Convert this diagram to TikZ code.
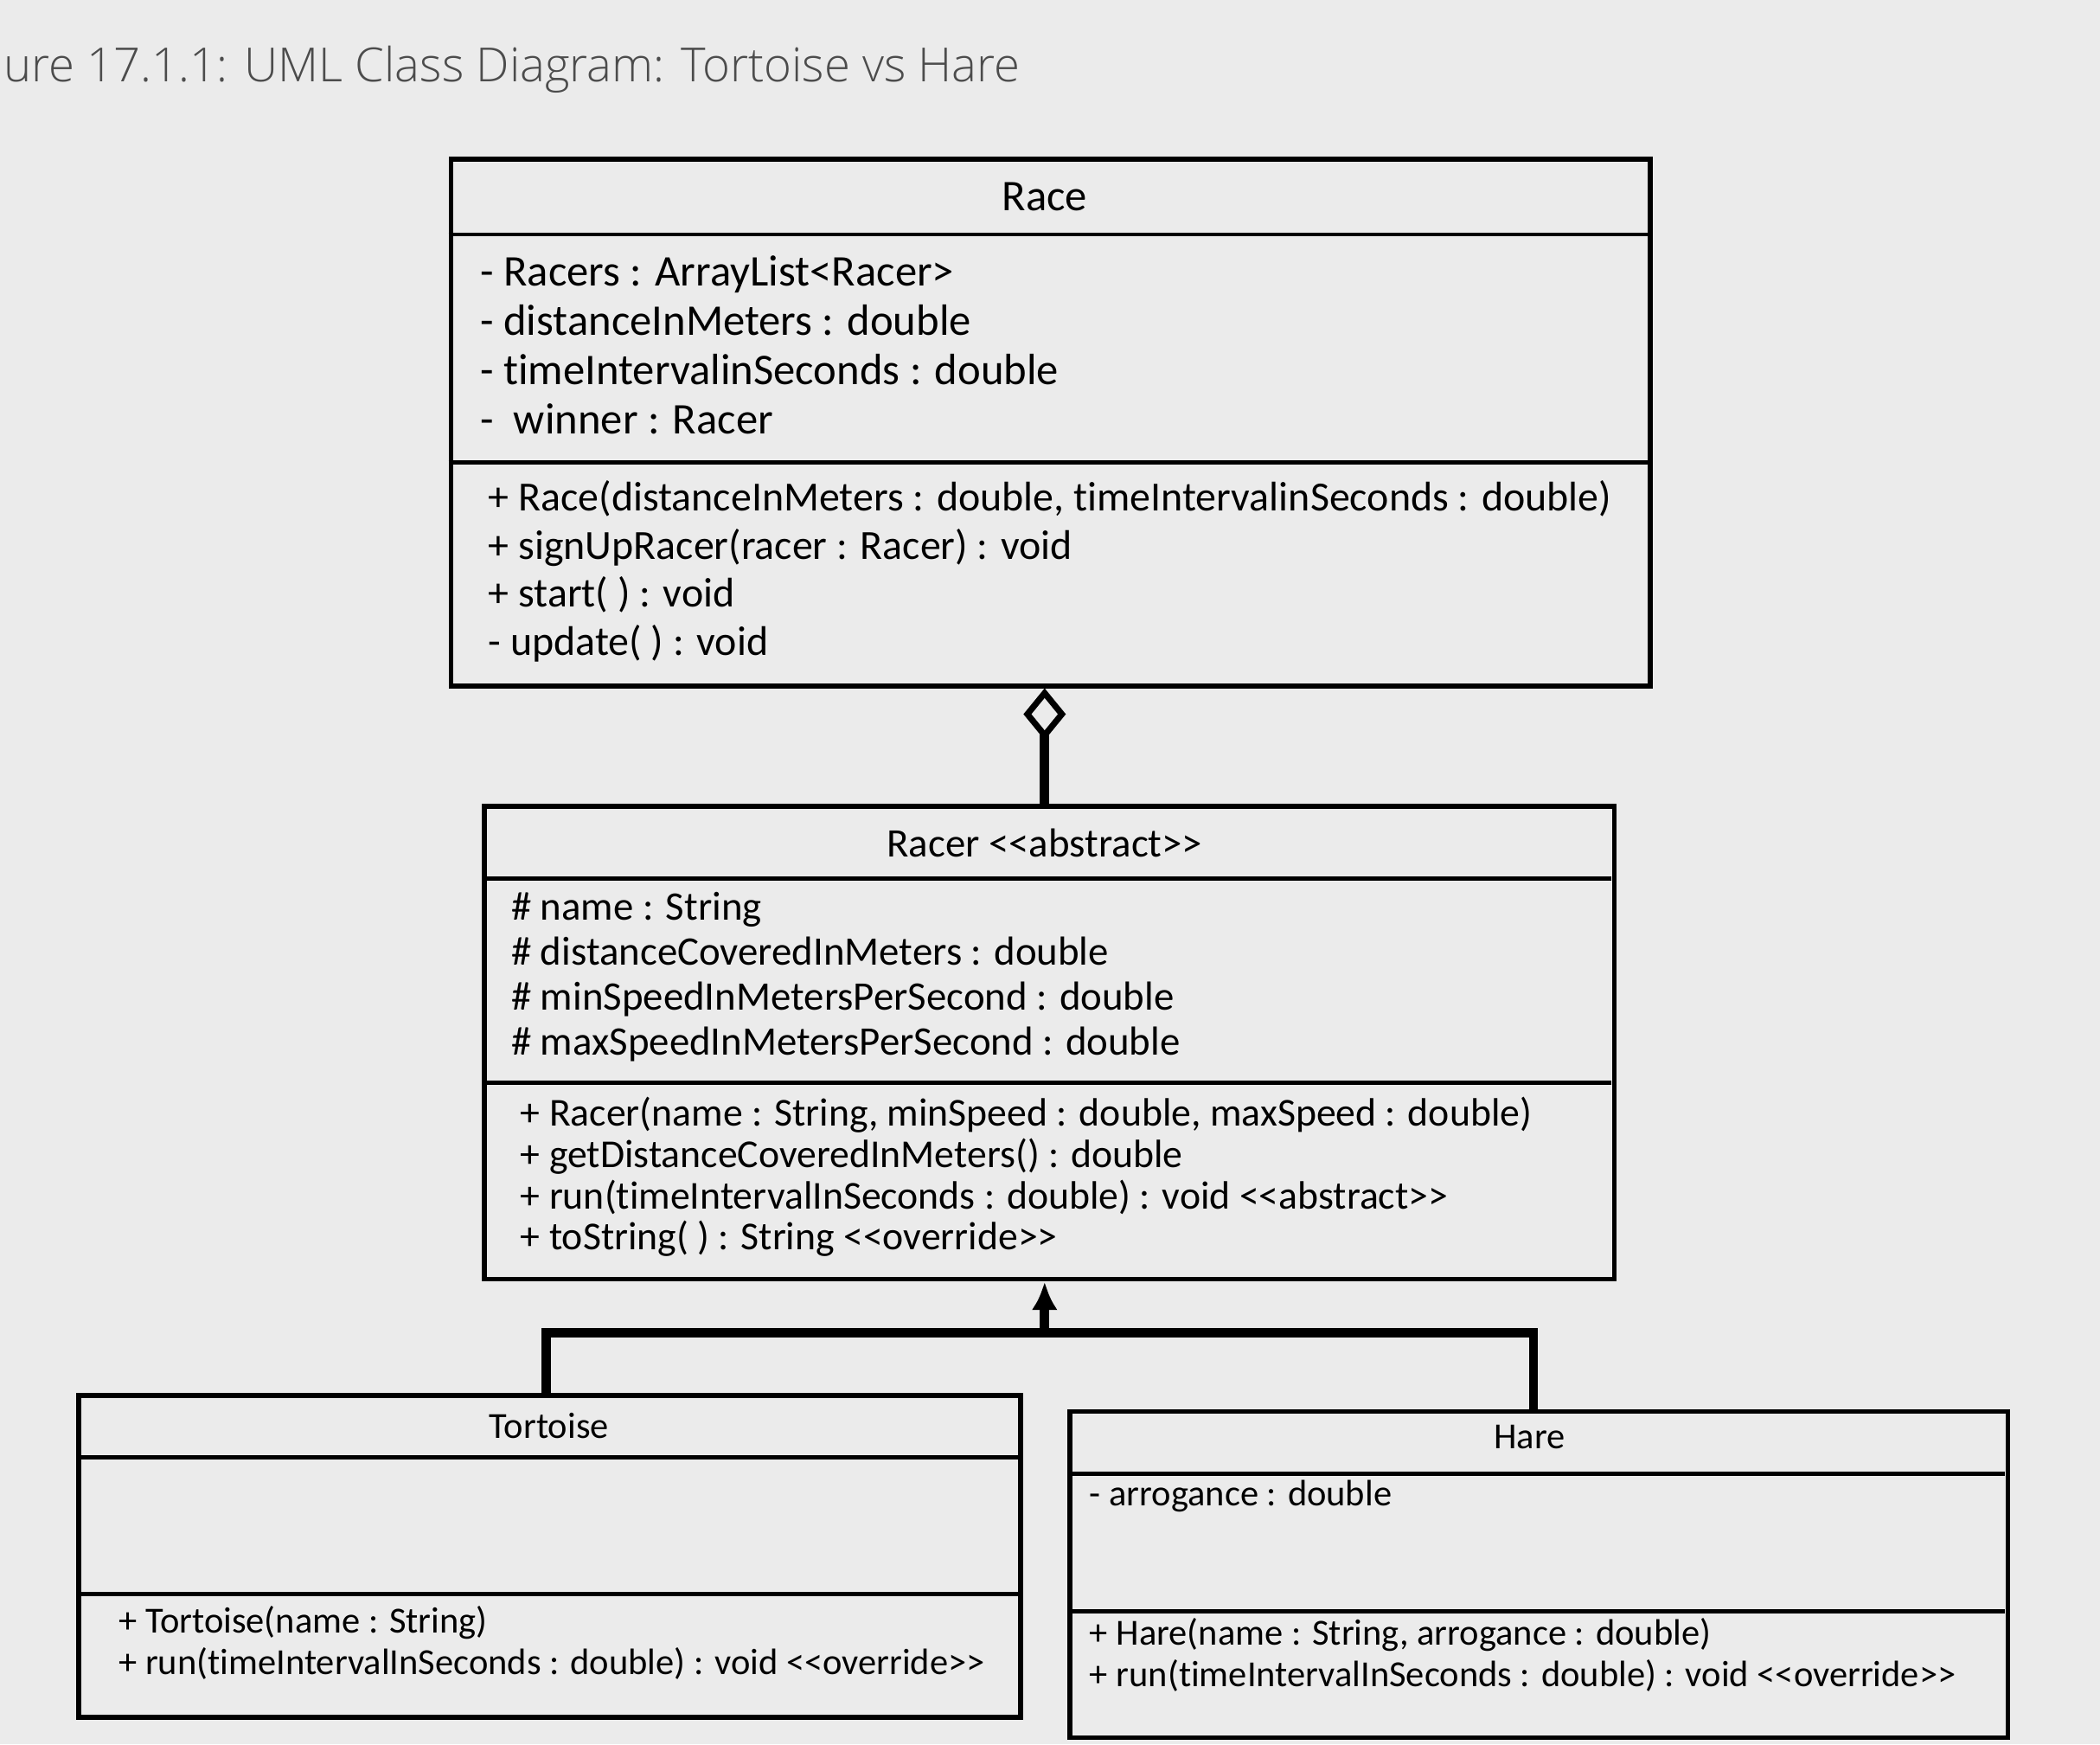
\documentclass[tikz,border=0pt]{standalone}
\usepackage{fontspec}
\setmainfont{Carlito}[Ligatures=NoCommon]
\newfontfamily\titlefont{Open Sans Light}
\usetikzlibrary{arrows.meta}
\begin{document}
\begin{tikzpicture}[x=0.01cm,y=-0.01cm,
  box/.style={draw,line width=1pt,anchor=north west,inner sep=0pt},
  sep/.style={line width=0.9pt},
  txt/.style={anchor=north west,align=left,inner sep=0pt},
  conn/.style={line width=2pt}]
\fill[black!8] (0,0) rectangle (1568,1302);
\useasboundingbox (0,0) rectangle (1568,1302);
\node[txt,anchor=west,text=black!70,font=\titlefont\fontsize{10}{12}\selectfont] (title) at (2,52) {ure 17.1.1: UML Class Diagram: Tortoise vs Hare};
% Race
\node[box,minimum width=8.95cm,minimum height=3.93cm] (race) at (335,117) {};
\draw[sep] (335,175) -- (1230,175);
\draw[sep] (335,345) -- (1230,345);
\node[font=\fontsize{9.3}{11}\selectfont] (racet) at (780,147) {Race};
\node[txt,font=\fontsize{9.3}{10.5}\selectfont] (racea) at (358,190) {- Racers : ArrayList<Racer>\\- distanceInMeters : double\\- timeIntervalinSeconds : double\\-\ \ winner : Racer};
\node[txt,font=\fontsize{8.8}{10.2}\selectfont] (racem) at (364,358) {+ Race(distanceInMeters : double, timeIntervalinSeconds : double)\\+ signUpRacer(racer : Racer) : void\\+ start( ) : void\\- update( ) : void};
% Racer
\node[box,minimum width=8.43cm,minimum height=3.53cm] (racer) at (360,600) {};
\draw[sep] (360,656) -- (1203,656);
\draw[sep] (360,808) -- (1203,808);
\node[font=\fontsize{8.6}{10}\selectfont] (racert) at (780,629) {Racer <{}<abstract>{}>};
\node[txt,font=\fontsize{8.6}{9.6}\selectfont] (racera) at (381,665) {\# name : String\\\# distanceCoveredInMeters : double\\\# minSpeedInMetersPerSecond : double\\\# maxSpeedInMetersPerSecond : double};
\node[txt,font=\fontsize{8.4}{8.8}\selectfont] (racerm) at (388,818) {+ Racer(name : String, minSpeed : double, maxSpeed : double)\\+ getDistanceCoveredInMeters() : double\\+ run(timeIntervalInSeconds : double) : void <{}<abstract>{}>\\+ toString( ) : String <{}<override>{}>};
% Tortoise
\node[box,minimum width=7.03cm,minimum height=2.40cm] (tort) at (57,1040) {};
\draw[sep] (57,1088) -- (760,1088);
\draw[sep] (57,1190) -- (760,1190);
\node[font=\fontsize{7.8}{9}\selectfont] (tortt) at (410,1064) {Tortoise};
\node[txt,font=\fontsize{7.8}{8.8}\selectfont] (tortm) at (88,1198) {+ Tortoise(name : String)\\+ run(timeIntervalInSeconds : double) : void <{}<override>{}>};
% Hare
\node[box,minimum width=7.00cm,minimum height=2.43cm] (hare) at (797,1052) {};
\draw[sep] (797,1100) -- (1497,1100);
\draw[sep] (797,1203) -- (1497,1203);
\node[font=\fontsize{7.8}{9}\selectfont] (haret) at (1142,1073) {Hare};
\node[txt,font=\fontsize{7.8}{8.8}\selectfont] (harea) at (813,1104) {- arrogance : double};
\node[txt,font=\fontsize{7.8}{8.8}\selectfont] (harem) at (813,1207) {+ Hare(name : String, arrogance : double)\\+ run(timeIntervalInSeconds : double) : void <{}<override>{}>};
% connectors
\coordinate (ra) at (race.south -| 780,0);
\coordinate (rb) at (racer.north -| 780,0);
\coordinate (rc) at (racer.south -| 780,0);
\draw[conn,{Diamond[open,length=11pt,width=9pt,line width=1.3pt]}-] (ra) -- (rb);
\coordinate (junc) at (780,995);
\draw[conn,-{Latex[length=6pt,width=5.5pt]}] (junc) -- (rc);
\draw[conn] (tort.north -| 408,0) |- (junc) -| (hare.north -| 1145,0);
\end{tikzpicture}
\end{document}
